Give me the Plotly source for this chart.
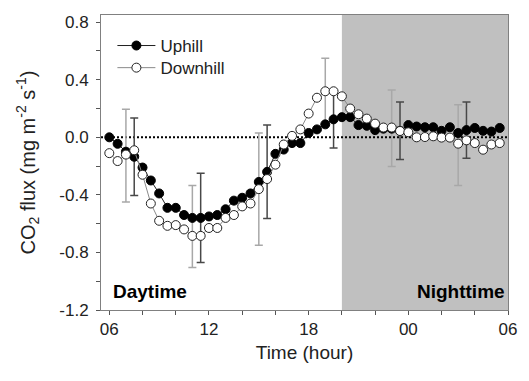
import plotly.graph_objects as go

# ---- data ----
hours = [6.0 + 0.5 * i for i in range(48)]

uphill = [0.00, -0.045, -0.10, -0.135, -0.21, -0.30, -0.39, -0.49,
          -0.49, -0.54, -0.56, -0.56, -0.55, -0.54, -0.50, -0.44,
          -0.42, -0.39, -0.31, -0.24, -0.115, -0.085, -0.04, -0.04,
          0.03, 0.055, 0.09, 0.125, 0.14, 0.14, 0.085, 0.08,
          0.05, 0.06, 0.06, 0.045, 0.085, 0.075, 0.07, 0.07,
          0.045, 0.07, 0.03, 0.05, 0.065, 0.045, 0.04, 0.065]

downhill = [-0.11, -0.165, -0.12, -0.09, -0.26, -0.46, -0.58, -0.615,
            -0.61, -0.64, -0.685, -0.685, -0.63, -0.63, -0.56, -0.54,
            -0.48, -0.46, -0.36, -0.29, -0.19, -0.05, 0.01, 0.055,
            0.165, 0.275, 0.32, 0.32, 0.285, 0.20, 0.16, 0.13,
            0.095, 0.068, 0.068, 0.044, 0.035, 0.0, 0.002, 0.007,
            -0.002, -0.002, -0.044, -0.021, -0.04, -0.086, -0.05, -0.04]

up_err_hours = [7.5, 11.5, 15.5, 19.5, 23.5, 27.5]
up_err = [0.27, 0.31, 0.325, 0.20, 0.20, 0.195]

down_err_hours = [7.0, 11.0, 15.0, 19.0, 23.0, 27.0]
down_err_plus = [0.315, 0.35, 0.39, 0.23, 0.26, 0.27]
down_err_minus = [0.33, 0.22, 0.39, 0.23, 0.27, 0.29]

x_tick_vals = [6, 12, 18, 24, 30]
x_tick_text = ["06", "12", "18", "00", "06"]
x_minor_vals = [8, 10, 14, 16, 20, 22, 26, 28]
y_tick_vals = [-1.2, -0.8, -0.4, 0.0, 0.4, 0.8]
y_tick_text = ["-1.2", "-0.8", "-0.4", "0.0", "0.4", "0.8"]
y_minor_vals = [-1.0, -0.6, -0.2, 0.2, 0.6]

night_start, night_end = 20.0, 30.0

FONT = "Liberation Sans, Arial, sans-serif"

def pick(xs, ys, sel):
    return [ys[xs.index(h)] for h in sel]

fig = go.Figure()

# error bars (drawn first, behind markers)
fig.add_trace(go.Scatter(
    x=down_err_hours, y=pick(hours, downhill, down_err_hours), mode="markers",
    marker=dict(size=1, opacity=0), showlegend=False, hoverinfo="skip",
    error_y=dict(type="data", symmetric=False, array=down_err_plus,
                 arrayminus=down_err_minus, color="#a8a8a8", thickness=1.5, width=4)))
fig.add_trace(go.Scatter(
    x=up_err_hours, y=pick(hours, uphill, up_err_hours), mode="markers",
    marker=dict(size=1, opacity=0), showlegend=False, hoverinfo="skip",
    error_y=dict(type="data", array=up_err, color="#484848", thickness=1.5, width=4)))

fig.add_trace(go.Scatter(
    x=hours, y=uphill, mode="lines+markers", name="Uphill", legend="legend",
    line=dict(color="#202020", width=1),
    marker=dict(symbol="circle", size=9, color="black", line=dict(color="black", width=1))))
fig.add_trace(go.Scatter(
    x=hours, y=downhill, mode="lines+markers", name="Downhill", legend="legend2",
    line=dict(color="#8a8a8a", width=1),
    marker=dict(symbol="circle", size=9, color="white", line=dict(color="#222222", width=1))))

fig.add_shape(type="rect", xref="x", yref="paper", x0=night_start, x1=night_end,
              y0=0, y1=1, fillcolor="#c0c0c0", line=dict(width=0), layer="below")
fig.add_shape(type="line", xref="paper", yref="y", x0=0, x1=1, y0=0, y1=0,
              line=dict(color="black", width=2, dash="2px,2px"), layer="below")

fig.add_annotation(x=6.1, y=-1.07, xref="x", yref="y", text="<b>Daytime</b>",
                   showarrow=False, xanchor="left", yanchor="middle",
                   font=dict(family=FONT, size=19, color="black"))
fig.add_annotation(x=0.998, y=-1.07, xref="paper", yref="y", text="<b>Nighttime</b>",
                   showarrow=False, xanchor="right", yanchor="middle",
                   font=dict(family=FONT, size=19, color="black"))

axis_common = dict(showline=True, linecolor="#808080", linewidth=1, mirror=True,
                   ticks="outside", ticklen=4, tickcolor="#555555", showgrid=False,
                   zeroline=False, tickfont=dict(family=FONT, size=17, color="#222"))

fig.update_xaxes(range=[5.5, 30], tickmode="array", tickvals=x_tick_vals,
                 ticktext=x_tick_text,
                 minor=dict(tickmode="array", tickvals=x_minor_vals, ticks="outside",
                            ticklen=4, tickcolor="#555555", showgrid=False),
                 title=dict(text="Time (hour)", font=dict(family=FONT, size=19, color="#222"),
                            standoff=7),
                 **axis_common)
fig.update_yaxes(range=[-1.2, 0.85], tickmode="array", tickvals=y_tick_vals,
                 ticktext=y_tick_text, ticklabelstandoff=4,
                 minor=dict(tickmode="array", tickvals=y_minor_vals, ticks="outside",
                            ticklen=4, tickcolor="#555555", showgrid=False),
                 title=dict(text="CO<sub>2</sub> flux (mg m<sup>-2</sup> s<sup>-1</sup>)",
                            font=dict(family=FONT, size=20, color="#222"), standoff=18),
                 **axis_common)

leg_common = dict(xanchor="left", yanchor="middle", bgcolor="rgba(0,0,0,0)",
                  font=dict(family=FONT, size=17, color="#222"), itemwidth=38,
                  borderwidth=0)
fig.update_layout(
    width=529, height=381,
    margin=dict(l=101, r=13, t=15, b=71),
    plot_bgcolor="white", paper_bgcolor="white",
    font=dict(family=FONT, size=17, color="#222"),
    legend=dict(x=0.028, y=0.895, **leg_common),
    legend2=dict(x=0.028, y=0.82, **leg_common),
    showlegend=True,
)

fig.write_html("out.html", config={"displayModeBar": False},
               post_script="document.body.style.margin='0';")
